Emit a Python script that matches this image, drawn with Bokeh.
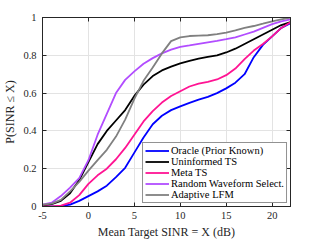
from bokeh.plotting import figure
from bokeh.models import Range1d, FixedTicker, LinearAxis, Legend, LegendItem
from bokeh.embed import file_html
from bokeh.resources import INLINE

x = [-5, -4, -3, -2, -1, 0, 1, 2, 3, 4, 5, 6, 7, 8, 9, 10, 11, 12, 13, 14, 15, 16, 17, 18, 19, 20, 21, 22]
oracle = [0, 0, 0.002, 0.01, 0.03, 0.055, 0.08, 0.11, 0.155, 0.205, 0.285, 0.365, 0.435, 0.48, 0.51, 0.53,
          0.548, 0.565, 0.58, 0.60, 0.625, 0.655, 0.70, 0.79, 0.855, 0.90, 0.945, 0.97]
uninformed = [0.005, 0.012, 0.03, 0.07, 0.14, 0.235, 0.33, 0.40, 0.455, 0.51, 0.585, 0.645, 0.69, 0.72, 0.74,
              0.757, 0.77, 0.782, 0.792, 0.80, 0.815, 0.835, 0.86, 0.885, 0.91, 0.935, 0.96, 0.975]
meta = [0, 0.001, 0.005, 0.02, 0.06, 0.12, 0.165, 0.20, 0.25, 0.31, 0.38, 0.45, 0.505, 0.55, 0.585, 0.61,
        0.635, 0.65, 0.66, 0.672, 0.695, 0.73, 0.78, 0.825, 0.86, 0.90, 0.945, 0.975]
random_wf = [0.01, 0.02, 0.055, 0.10, 0.15, 0.245, 0.38, 0.49, 0.60, 0.67, 0.715, 0.755, 0.785, 0.81, 0.83,
             0.845, 0.852, 0.86, 0.868, 0.876, 0.885, 0.895, 0.91, 0.925, 0.945, 0.965, 0.98, 0.99]
adaptive = [0.01, 0.015, 0.035, 0.08, 0.13, 0.19, 0.245, 0.30, 0.37, 0.46, 0.57, 0.665, 0.735, 0.81, 0.875,
            0.895, 0.902, 0.904, 0.906, 0.912, 0.92, 0.932, 0.945, 0.955, 0.967, 0.98, 0.99, 1.0]

names = ["Oracle (Prior Known)", "Uninformed TS", "Meta TS", "Random Waveform Select.", "Adaptive LFM"]
colors = ["#0000ff", "#000000", "#ff1493", "#b24dff", "#808080"]
series = [oracle, uninformed, meta, random_wf, adaptive]

x_ticks = [-5, 0, 5, 10, 15, 20]
x_tick_labels = ["-5", "0", "5", "10", "15", "20"]
y_ticks = [0, 0.2, 0.4, 0.6, 0.8, 1]
y_tick_labels = ["0", "0.2", "0.4", "0.6", "0.8", "1"]

FONT = "Liberation Serif"
AX = "#262626"

p = figure(width=320, height=241, output_backend="svg", toolbar_location=None,
           x_range=Range1d(-5, 22), y_range=Range1d(0, 1),
           min_border_left=42, min_border_right=30, min_border_top=17, min_border_bottom=33)

items = []
for name, col, ys in zip(names, colors, series):
    r = p.line(x, ys, line_color=col, line_width=1.8)
    items.append(LegendItem(label=name, renderers=[r]))

for ax, ticks, labels in [(p.xaxis[0], x_ticks, x_tick_labels), (p.yaxis[0], y_ticks, y_tick_labels)]:
    ax.ticker = FixedTicker(ticks=ticks)
    ax.major_label_overrides = {t: l for t, l in zip(ticks, labels)}
    ax.major_tick_in = 4
    ax.major_tick_out = 0
    ax.minor_tick_in = 0
    ax.minor_tick_out = 0
    ax.axis_line_color = AX
    ax.major_tick_line_color = AX
    ax.major_label_text_font = FONT
    ax.major_label_text_font_size = "10.5px"
    ax.major_label_text_color = AX
    ax.axis_label_text_font = FONT
    ax.axis_label_text_font_size = "12px"
    ax.axis_label_text_font_style = "normal"
    ax.axis_label_text_color = AX
    ax.axis_label_standoff = 3

p.xaxis[0].axis_label = "Mean Target SINR = X (dB)"
p.yaxis[0].axis_label = "P(SINR \u2264 X)"
p.xaxis[0].major_label_standoff = 5
p.yaxis[0].major_label_standoff = 6

for loc, ticks in [("right", y_ticks), ("above", x_ticks)]:
    a = LinearAxis(ticker=FixedTicker(ticks=ticks), major_tick_in=4, major_tick_out=0,
                   minor_tick_in=0, minor_tick_out=0,
                   major_label_overrides={t: "" for t in ticks},
                   major_label_standoff=0, axis_line_color=AX, major_tick_line_color=AX)
    p.add_layout(a, loc)

p.grid.grid_line_color = "#e3e3e3"
p.grid.grid_line_width = 1
p.xgrid.ticker = FixedTicker(ticks=x_ticks)
p.ygrid.ticker = FixedTicker(ticks=y_ticks)
p.outline_line_color = AX

legend = Legend(items=items, location="bottom_right")
legend.label_text_font = FONT
legend.label_text_font_size = "10.5px"
legend.label_text_color = "#000000"
legend.label_height = 9
legend.glyph_height = 9
legend.glyph_width = 24
legend.label_standoff = 2
legend.spacing = -1
legend.padding = 2
legend.margin = 3
legend.border_line_color = AX
legend.border_line_width = 1
legend.background_fill_alpha = 1
p.add_layout(legend)

open("out.html", "w").write(file_html(p, INLINE))
